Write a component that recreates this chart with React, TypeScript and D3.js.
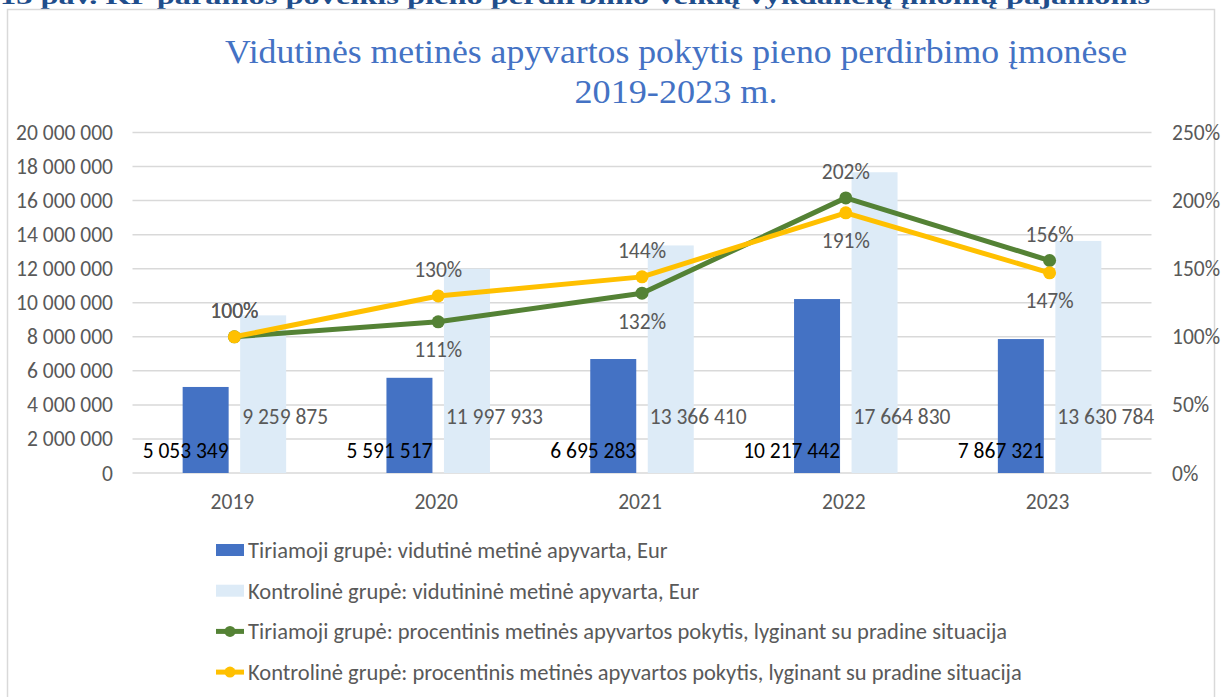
import * as d3 from 'd3'

// chart data
const years = ['2019', '2020', '2021', '2022', '2023']
const tiriamojiApyvarta = [5053349, 5591517, 6695283, 10217442, 7867321]
const kontrolineApyvarta = [9259875, 11997933, 13366410, 17664830, 13630784]
const tiriamojiPokytis = [1.0, 1.11, 1.32, 2.02, 1.56]
const kontrolinePokytis = [1.0, 1.3, 1.44, 1.91, 1.47]

const heading = '13 pav. KP paramos poveikis pieno perdirbimo veiklą vykdančių įmonių pajamoms'
const titleLines = ['Vidutinės metinės apyvartos pokytis pieno perdirbimo įmonėse', '2019-2023 m.']
const legendLabels = [
  'Tiriamoji grupė: vidutinė metinė apyvarta, Eur',
  'Kontrolinė grupė: vidutininė metinė apyvarta, Eur',
  'Tiriamoji grupė: procentinis metinės apyvartos pokytis, lyginant su pradine situacija',
  'Kontrolinė grupė: procentinis metinės apyvartos pokytis, lyginant su pradine situacija',
]

// where the % labels sit relative to the point
const greenLabelPos = ['above', 'below', 'below', 'above', 'above']
const yellowLabelPos = ['above', 'above', 'above', 'below', 'below']

const W = 1221
const H = 697
const FONT = 'Carlito, Lato, sans-serif'
const DARK = '#4472C4'
const LIGHT = '#DDEBF7'
const GREEN = '#548235'
const YELLOW = '#FFC000'
const GRAY = '#595959'

const plot = { left: 132.5, right: 1151.5, top: 132.5, bottom: 473 }

const lt = d3.formatLocale({ decimal: ',', thousands: '\u00a0', grouping: [3], currency: ['', ' €'] })
const fmtNum = lt.format(',.0f')
const fmtPct = d3.format('.0%')

export default function App() {
  const x = d3.scaleBand<string>().domain(years).range([plot.left, plot.right])
  const inner = d3.scaleBand<string>().domain(['t', 'k']).range([0, 103.5]).paddingInner(0.2)
  const yLeft = d3.scaleLinear().domain([0, 20000000]).range([plot.bottom, plot.top])
  const yRight = d3.scaleLinear().domain([0, 2.5]).range([plot.bottom, plot.top])

  const cx = (y: string) => (x(y) ?? 0) + x.bandwidth() / 2
  const barX = (y: string, k: string) => cx(y) - 51.75 + (inner(k) ?? 0)

  const line = d3
    .line<number>()
    .x((_, i) => cx(years[i]))
    .y((d) => yRight(d))

  const leftTicks = yLeft.ticks(10)
  const rightTicks = yRight.ticks(5)

  const series = [
    { vals: tiriamojiPokytis, color: GREEN, pos: greenLabelPos },
    { vals: kontrolinePokytis, color: YELLOW, pos: yellowLabelPos },
  ]

  return (
    <svg width={W} height={H} style={{ position: 'absolute', left: 0, top: 0, background: '#fff' }}>
      {/* heading of the page, cut at the top edge like in the source */}
      <text
        x={0}
        y={4}
        fontFamily="'Liberation Serif', serif"
        fontWeight="bold"
        fontSize={23}
        fill="#1F4E8C"
        textLength={1150}
        lengthAdjust="spacingAndGlyphs"
      >
        {heading}
      </text>

      {/* chart frame */}
      <rect x={7.5} y={9.5} width={1207} height={H} fill="#fff" stroke="#d9d9d9" strokeWidth={1.5} />

      {/* title */}
      {titleLines.map((t, i) => (
        <text
          key={i}
          x={676}
          y={63 + i * 40}
          textAnchor="middle"
          fontFamily="'Liberation Serif', serif"
          fontSize={33}
          fill={DARK}
          textLength={i === 0 ? 902 : 203}
          lengthAdjust="spacingAndGlyphs"
        >
          {t}
        </text>
      ))}

      {/* gridlines + left axis */}
      {leftTicks.map((t) => (
        <g key={t}>
          <line x1={plot.left} x2={plot.right} y1={yLeft(t)} y2={yLeft(t)} stroke="#d9d9d9" strokeWidth={1.5} />
          <text x={113} y={yLeft(t)} dy="0.35em" textAnchor="end" fontFamily={FONT} fontSize={21.5} fill={GRAY}>
            {fmtNum(t)}
          </text>
        </g>
      ))}

      {/* right axis */}
      {rightTicks.map((t) => (
        <text key={t} x={1172} y={yRight(t)} dy="0.35em" fontFamily={FONT} fontSize={21.5} fill={GRAY}>
          {fmtPct(t)}
        </text>
      ))}

      {/* x axis labels */}
      {years.map((y) => (
        <text key={y} x={cx(y) - 2} y={501} dy="0.35em" textAnchor="middle" fontFamily={FONT} fontSize={21.5} fill={GRAY}>
          {y}
        </text>
      ))}

      {/* bars */}
      {years.map((y, i) => (
        <g key={y}>
          <rect
            x={barX(y, 't')}
            y={yLeft(tiriamojiApyvarta[i])}
            width={inner.bandwidth()}
            height={plot.bottom - yLeft(tiriamojiApyvarta[i])}
            fill={DARK}
          />
          <rect
            x={barX(y, 'k')}
            y={yLeft(kontrolineApyvarta[i])}
            width={inner.bandwidth()}
            height={plot.bottom - yLeft(kontrolineApyvarta[i])}
            fill={LIGHT}
          />
        </g>
      ))}

      {/* bar labels */}
      {years.map((y, i) => (
        <g key={y} fontFamily={FONT} fontSize={21.5}>
          <text x={barX(y, 't') + inner.bandwidth()} y={450} dy="0.35em" textAnchor="end" fill="#000">
            {fmtNum(tiriamojiApyvarta[i])}
          </text>
          <text x={barX(y, 'k') + 2} y={416} dy="0.35em" fill={GRAY}>
            {fmtNum(kontrolineApyvarta[i])}
          </text>
        </g>
      ))}

      {/* lines */}
      {series.map((s, si) => (
        <g key={si}>
          <path d={line(s.vals) ?? ''} fill="none" stroke={s.color} strokeWidth={5} strokeLinejoin="round" />
          {s.vals.map((v, i) => (
            <circle key={i} cx={cx(years[i])} cy={yRight(v)} r={6.5} fill={s.color} />
          ))}
        </g>
      ))}

      {/* % labels */}
      {series.map((s, si) =>
        s.vals.map((v, i) => (
          <text
            key={`${si}-${i}`}
            x={cx(years[i])}
            y={yRight(v) + (s.pos[i] === 'above' ? -26 : 28)}
            dy="0.35em"
            textAnchor="middle"
            fontFamily={FONT}
            fontSize={21.5}
            fill={GRAY}
          >
            {fmtPct(v)}
          </text>
        ))
      )}

      {/* legend */}
      {legendLabels.map((l, i) => {
        const ly = 550 + i * 40.7
        return (
          <g key={i}>
            {i < 2 ? (
              <rect x={216} y={ly - 6} width={28} height={12} fill={i === 0 ? DARK : LIGHT} />
            ) : (
              <g>
                <line x1={216} x2={244} y1={ly} y2={ly} stroke={i === 2 ? GREEN : YELLOW} strokeWidth={5} />
                <circle cx={230} cy={ly} r={5.5} fill={i === 2 ? GREEN : YELLOW} />
              </g>
            )}
            <text x={248} y={ly} dy="0.35em" fontFamily={FONT} fontSize={22.5} fill={GRAY}>
              {l}
            </text>
          </g>
        )
      })}
    </svg>
  )
}
